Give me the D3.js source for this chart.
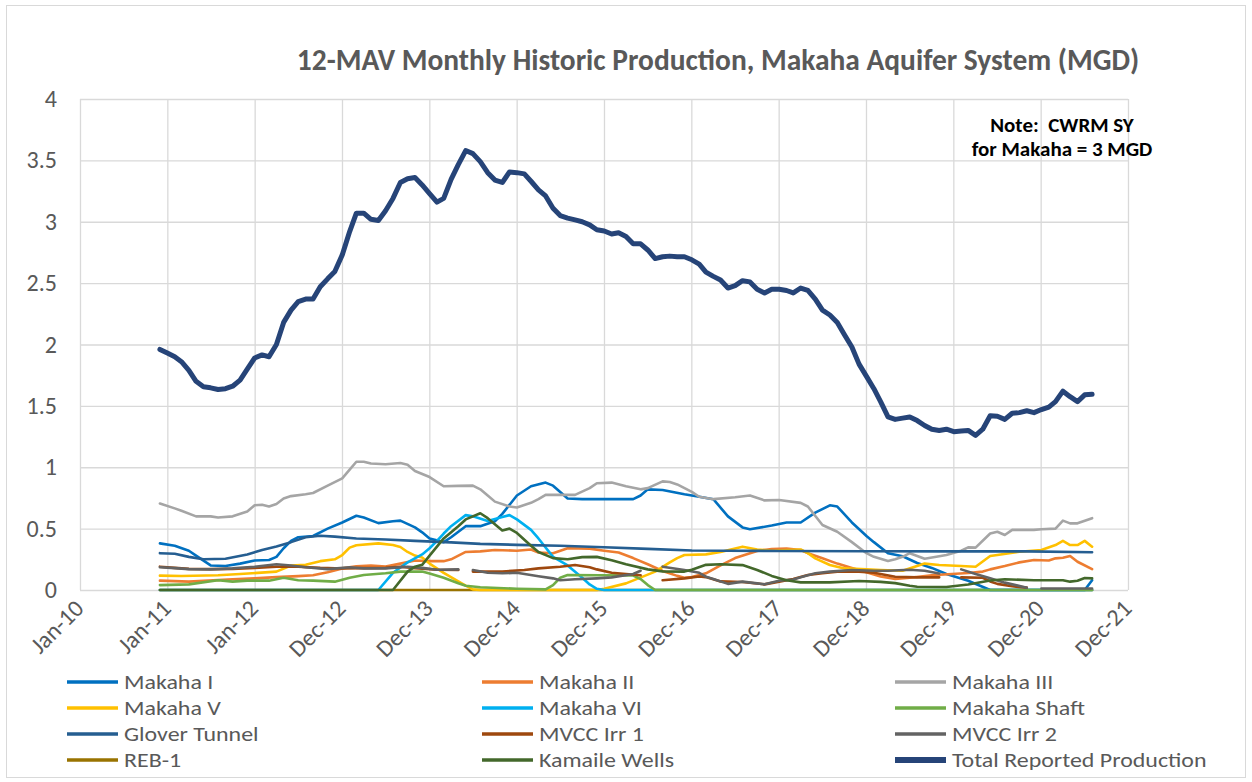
<!DOCTYPE html>
<html>
<head>
<meta charset="utf-8">
<script src="https://cdn.jsdelivr.net/npm/d3@7/dist/d3.min.js"></script>
<style>
  body { margin: 0; background: #fff; }
  svg { display: block; font-family: Calibri, Carlito, "Liberation Sans", Arial, sans-serif; }
</style>
</head>
<body>
<div id="chart"></div>
<script>
// month index m = months since Jan 2010 (11 = Dec-10)
const xTickLabels = ["Jan-10", "Jan-11", "Jan-12", "Dec-12", "Dec-13", "Dec-14", "Dec-15",
  "Dec-16", "Dec-17", "Dec-18", "Dec-19", "Dec-20", "Dec-21"];
const yTicks = [0, 0.5, 1, 1.5, 2, 2.5, 3, 3.5, 4];

const seriesNames = ["Makaha I", "Makaha II", "Makaha III", "Makaha V", "Makaha VI", "Makaha Shaft",
  "Glover Tunnel", "MVCC Irr 1", "MVCC Irr 2", "REB-1", "Kamaile Wells", "Total Reported Production"];
const seriesColors = ["#0070C0", "#ED7D31", "#A5A5A5", "#FFC000", "#00B0F0", "#70AD47",
  "#255E91", "#9E480E", "#636363", "#997300", "#43682B", "#264478"];

const makahaI = [[11,0.38],[13,0.36],[15,0.32],[16,0.28],[18,0.2],[20,0.195],[22,0.215],[24,0.24],[26,0.245],
  [27,0.27],[28,0.34],[29,0.4],[30,0.43],[32,0.44],[34,0.5],[36,0.55],[38,0.605],[39,0.59],[41,0.545],[43,0.56],
  [44,0.565],[46,0.51],[47,0.47],[48,0.42],[50,0.39],[51,0.43],[53,0.52],[55,0.52],[57,0.56],[58,0.62],[60,0.77],
  [62,0.845],[64,0.875],[65,0.85],[67,0.745],[69,0.74],[76,0.74],[77,0.77],[78,0.82],[80,0.815],[83,0.78],[85,0.76],
  [87,0.74],[89,0.6],[91,0.51],[92,0.495],[95,0.525],[97,0.55],[99,0.55],[101,0.63],[103,0.69],[104,0.68],[106,0.55],
  [108,0.44],[109,0.39],[111,0.3],[113,0.275],[115,0.22],[117,0.18],[119,0.13],[122,0.075],[125,0],[138,0],[139,0.08]];

const makahaII = [[11,0.076],[15,0.068],[21,0.087],[24,0.095],[27,0.105],[30,0.113],[32,0.12],[34,0.145],[36,0.176],
  [38,0.193],[40,0.2],[42,0.192],[44,0.215],[46,0.24],[48,0.235],[50,0.235],[51,0.25],[53,0.31],[55,0.315],[57,0.326],
  [60,0.32],[62,0.33],[63,0.305],[65,0.3],[67,0.34],[70,0.337],[72,0.32],[74,0.305],[76,0.26],[78,0.21],[80,0.155],
  [82,0.115],[83,0.1],[84,0.105],[86,0.136],[88,0.2],[90,0.26],[93,0.318],[95,0.334],[97,0.337],[99,0.326],[100,0.3],
  [102,0.258],[104,0.215],[106,0.18],[108,0.145],[110,0.11],[112,0.09],[114,0.1],[117,0.12],[122,0.138],[124,0.15],
  [125,0.168],[127,0.195],[129,0.225],[131,0.244],[133,0.24],[134,0.258],[135,0.263],[136,0.277],[137,0.23],[139,0.17]];

const makahaIII = [[11,0.705],[13,0.665],[14,0.645],[16,0.6],[18,0.6],[19,0.59],[21,0.6],[23,0.64],[24,0.69],
  [25,0.695],[26,0.68],[27,0.7],[28,0.745],[29,0.765],[31,0.78],[32,0.79],[34,0.85],[36,0.91],[37,0.98],[38,1.045],
  [39,1.045],[40,1.03],[42,1.025],[44,1.035],[45,1.02],[46,0.97],[48,0.92],[50,0.845],[52,0.848],[54,0.85],[55,0.82],
  [56,0.77],[57,0.72],[59,0.68],[60,0.672],[62,0.71],[63,0.74],[64,0.775],[68,0.775],[70,0.83],[71,0.87],[73,0.875],
  [75,0.845],[77,0.82],[78,0.83],[80,0.885],[81,0.88],[82,0.86],[84,0.8],[85,0.76],[87,0.74],[90,0.755],[92,0.77],
  [94,0.73],[96,0.733],[99,0.71],[100,0.68],[102,0.53],[104,0.475],[106,0.39],[108,0.3],[109,0.27],[111,0.236],
  [112,0.25],[113,0.27],[114,0.3],[116,0.255],[118,0.275],[119,0.285],[121,0.32],[122,0.347],[123,0.345],[125,0.46],
  [126,0.475],[127,0.448],[128,0.49],[131,0.49],[132,0.495],[134,0.5],[135,0.565],[136,0.543],[137,0.543],[139,0.585]];

const makahaV = [[11,0.117],[14,0.114],[19,0.12],[22,0.13],[27,0.15],[29,0.2],[31,0.205],[33,0.235],[35,0.25],
  [36,0.285],[37,0.345],[38,0.365],[41,0.38],[43,0.366],[44,0.35],[45,0.31],[46,0.28],[47,0.265],[48,0.215],[50,0.14],
  [52,0.07],[53,0.035],[54,0.005],[55,0],[71,0],[72,0.01],[75,0.054],[79,0.15],[81,0.225],[82,0.26],[83,0.285],
  [86,0.29],[88,0.31],[91,0.353],[93,0.33],[95,0.32],[99,0.33],[100,0.3],[101,0.258],[103,0.204],[105,0.176],
  [108,0.168],[110,0.163],[113,0.157],[116,0.215],[118,0.204],[121,0.195],[123,0.19],[125,0.277],[126,0.285],
  [129,0.312],[132,0.326],[134,0.366],[135,0.4],[136,0.366],[137,0.366],[138,0.4],[139,0.353]];

const makahaVI = [[11,0],[41,0],[43,0.14],[45,0.225],[47,0.29],[48,0.34],[49,0.4],[50,0.46],[51,0.52],[53,0.61],
  [54,0.6],[56,0.563],[58,0.595],[59,0.61],[60,0.575],[62,0.49],[63,0.42],[65,0.27],[67,0.2],[69,0.1],[70,0.045],
  [71,0.01],[72,0],[139,0]];

const makahaShaft = [[11,0.04],[15,0.046],[19,0.08],[21,0.068],[23,0.076],[26,0.076],[28,0.1],[30,0.08],[32,0.076],
  [35,0.068],[37,0.1],[39,0.122],[42,0.136],[44,0.15],[47,0.15],[48,0.135],[50,0.1],[52,0.055],[53,0.035],[55,0.022],
  [60,0.01],[64,0.005],[65,0.04],[66,0.1],[67,0.122],[76,0.118],[77,0.09],[78,0.04],[79,0],[139,0]];

const gloverTunnel = [[11,0.3],[13,0.295],[15,0.27],[17,0.25],[20,0.255],[23,0.29],[25,0.325],[27,0.355],[29,0.39],
  [31,0.43],[33,0.442],[35,0.435],[38,0.42],[42,0.412],[46,0.4],[51,0.388],[55,0.376],[60,0.368],[66,0.36],[72,0.348],
  [78,0.335],[84,0.322],[96,0.318],[108,0.316],[120,0.315],[130,0.315],[139,0.308]];

// null = no data (gap in the line)
const mvccIrr1 = [[11,0.19],[13,0.18],[15,0.172],[18,0.17],[21,0.172],[24,0.18],[27,0.19],[30,0.19],[33,0.18],
  [36,0.175],[39,0.178],[42,0.18],[44,0.19],[46,0.178],[49,0.165],[52,0.163],[53,null],[54,0.15],[58,0.15],[61,0.163],
  [63,0.176],[66,0.19],[68,0.204],[70,0.185],[71,0.168],[73,0.14],[75,0.13],[77,0.12],[78,null],[80,0.08],[83,0.095],
  [85,0.11],[86,0.105],[88,0.07],[91,0.065],[94,0.046],[96,0.068],[98,0.09],[100,0.122],[102,0.136],[104,0.15],
  [107,0.15],[109,0.14],[112,0.108],[115,0.103],[118,0.103],[119,null],[121,0.103],[124,0.1],[125,0.07],[126,0.05],
  [128,0.03],[130,0.019]];

const mvccIrr2 = [[11,0.185],[13,0.178],[15,0.17],[18,0.168],[21,0.176],[24,0.19],[27,0.21],[29,0.2],[31,0.185],
  [34,0.17],[37,0.185],[39,0.176],[42,0.176],[45,0.19],[47,0.18],[49,0.165],[52,0.168],[53,null],[54,0.163],[56,0.14],
  [58,0.136],[60,0.14],[63,0.112],[65,0.095],[66,0.08],[68,0.087],[71,0.095],[73,0.103],[76,0.13],[77,0.157],[78,null],
  [80,0.19],[83,0.163],[85,0.14],[86,0.108],[87,0.09],[89,0.05],[91,0.068],[93,0.054],[94,0.046],[96,0.076],[98,0.085],
  [99,0.103],[101,0.136],[103,0.15],[106,0.163],[109,0.157],[111,0.157],[114,0.165],[116,0.157],[118,0.135],[119,null],
  [121,0.168],[123,0.13],[125,0.095],[127,0.06],[130,0.019],[131,null],[132,0.012],[139,0.012]];

const reb1 = [[11,0],[139,0]];

const kamaileWells = [[11,0],[43,0],[45,0.15],[46,0.19],[47,0.205],[48,0.28],[50,0.42],[52,0.52],[53,0.575],[55,0.625],
  [56,0.585],[58,0.485],[59,0.5],[60,0.465],[62,0.36],[63,0.31],[65,0.26],[67,0.25],[69,0.268],[71,0.27],[73,0.243],
  [75,0.21],[78,0.168],[80,0.152],[83,0.15],[84,0.165],[86,0.205],[88,0.21],[91,0.203],[93,0.163],[95,0.115],[97,0.08],
  [99,0.062],[103,0.062],[107,0.073],[110,0.066],[112,0.056],[114,0.035],[115,0.027],[119,0.025],[122,0.045],
  [125,0.078],[127,0.087],[131,0.08],[135,0.08],[136,0.068],[137,0.076],[138,0.098],[139,0.095]];

// total reported production, monthly from Dec-10 (m = 11)
const totalStart = 11;
const totalValues = [
  1.96, 1.93, 1.90, 1.86, 1.79, 1.70, 1.655, 1.647, 1.633, 1.64, 1.66, 1.71,
  1.80, 1.89, 1.915, 1.90, 2.00, 2.18, 2.28, 2.35, 2.37, 2.37, 2.47, 2.535,
  2.595, 2.73, 2.92, 3.07, 3.07, 3.02, 3.01, 3.09, 3.19, 3.32, 3.35, 3.36,
  3.30, 3.23, 3.16, 3.19, 3.345, 3.465, 3.58, 3.555, 3.49, 3.40, 3.34, 3.32,
  3.405, 3.40, 3.39, 3.33, 3.26, 3.21, 3.11, 3.05, 3.03, 3.015, 3.00, 2.975,
  2.935, 2.925, 2.90, 2.91, 2.88, 2.82, 2.82, 2.77, 2.70, 2.715, 2.72, 2.715,
  2.715, 2.69, 2.655, 2.59, 2.555, 2.525, 2.46, 2.48, 2.52, 2.51, 2.45, 2.42,
  2.45, 2.45, 2.44, 2.42, 2.46, 2.44, 2.37, 2.28, 2.24, 2.18, 2.08, 1.98,
  1.84, 1.74, 1.64, 1.535, 1.41, 1.39, 1.40, 1.41, 1.38, 1.34, 1.31, 1.30,
  1.31, 1.29, 1.295, 1.30, 1.26, 1.31, 1.42, 1.415, 1.39, 1.44, 1.445, 1.46,
  1.445, 1.47, 1.49, 1.535, 1.62, 1.575, 1.535, 1.59, 1.595];

const noteLines = ["Note:\u00A0 CWRM SY", "for Makaha = 3 MGD"];
const titleText = "12-MAV Monthly Historic Production, Makaha Aquifer System (MGD)";

// ---------------------------------------------------------------
const width = 1252, height = 782;
const plot = { left: 80, right: 1128, top: 99, bottom: 590 };
const textColor = "#595959";
const gridColor = "#D9D9D9";
const labelSize = 24;

const monthDate = m => new Date(2010, m, 1);
const axisStart = new Date(2010, 0, 1);
const dayMs = 24 * 3600 * 1000;
// Excel date axis: major unit of 365 days
const tickDates = xTickLabels.map((d, i) => new Date(axisStart.getTime() + i * 365 * dayMs));

const x = d3.scaleTime()
  .domain([tickDates[0], tickDates[tickDates.length - 1]])
  .range([plot.left, plot.right]);
const y = d3.scaleLinear().domain([0, 4]).range([plot.bottom, plot.top]);

const totalSeries = totalValues.map((v, i) => [totalStart + i, v]);
const allSeries = [makahaI, makahaII, makahaIII, makahaV, makahaVI, makahaShaft,
  gloverTunnel, mvccIrr1, mvccIrr2, reb1, kamaileWells, totalSeries];

const series = seriesNames.map((name, i) => ({
  name,
  color: seriesColors[i],
  total: i === seriesNames.length - 1,
  values: allSeries[i]
}));

// REB-1 sits at zero underneath the other lines
const drawOrder = [series[9]].concat(series.filter((d, i) => i !== 9));

const svg = d3.select("#chart").append("svg")
  .attr("width", width)
  .attr("height", height);

svg.append("rect")
  .attr("x", 6.5).attr("y", 5.5)
  .attr("width", 1239).attr("height", 772)
  .attr("fill", "#fff")
  .attr("stroke", gridColor);

// gridlines
svg.append("g")
  .attr("transform", `translate(0,${plot.bottom})`)
  .call(d3.axisBottom(x).tickValues(tickDates).tickSize(-(plot.bottom - plot.top)).tickFormat(""))
  .call(g => g.select(".domain").remove())
  .call(g => g.selectAll("line").attr("stroke", gridColor).attr("stroke-width", 1.3));

svg.append("g")
  .attr("transform", `translate(${plot.left},0)`)
  .call(d3.axisLeft(y).tickValues(yTicks).tickSize(-(plot.right - plot.left)).tickFormat(""))
  .call(g => g.select(".domain").remove())
  .call(g => g.selectAll("line").attr("stroke", gridColor).attr("stroke-width", 1.3));

// y tick labels
svg.append("g")
  .selectAll("text")
  .data(yTicks)
  .join("text")
  .attr("x", 57)
  .attr("y", d => y(d) + 8)
  .attr("text-anchor", "end")
  .attr("font-size", labelSize)
  .attr("fill", textColor)
  .text(d => d3.format("~g")(d));

// x tick labels, rotated
svg.append("g")
  .selectAll("text")
  .data(tickDates)
  .join("text")
  .attr("text-anchor", "end")
  .attr("font-size", labelSize)
  .attr("fill", textColor)
  .attr("transform", d => `translate(${x(d) + 5},${610}) rotate(-45)`)
  .text((d, i) => xTickLabels[i]);

// lines
const line = d3.line()
  .defined(d => d[1] != null)
  .x(d => x(monthDate(d[0])))
  .y(d => y(d[1]));

svg.append("g")
  .selectAll("path")
  .data(drawOrder)
  .join("path")
  .attr("fill", "none")
  .attr("stroke", d => d.color)
  .attr("stroke-width", d => d.total ? 5 : 2.6)
  .attr("stroke-linejoin", "round")
  .attr("stroke-linecap", "round")
  .attr("d", d => line(d.values));

// title, fitted to its width in the reference
const title = svg.append("text")
  .attr("x", 718)
  .attr("y", 70)
  .attr("text-anchor", "middle")
  .attr("font-size", 24)
  .attr("font-weight", "bold")
  .attr("fill", textColor)
  .text(titleText);
const tw = title.node().getComputedTextLength();
title.attr("font-size", 24 * 843 / tw);

// note
svg.append("g")
  .selectAll("text")
  .data(noteLines)
  .join("text")
  .attr("x", 1062)
  .attr("y", (d, i) => 132 + i * 24)
  .attr("text-anchor", "middle")
  .attr("font-size", 21)
  .attr("font-weight", "bold")
  .attr("fill", "#000")
  .text(d => d);

// legend: 3 columns x 4 rows
const legendCols = [67, 482, 895];
const legendRows = [682, 708, 734, 760];
const legendFont = 21;
const legend = svg.append("g")
  .selectAll("g")
  .data(series)
  .join("g")
  .attr("transform", (d, i) => `translate(${legendCols[i % 3]},${legendRows[Math.floor(i / 3)]})`);

legend.append("line")
  .attr("x1", 0).attr("x2", 51)
  .attr("stroke", d => d.color)
  .attr("stroke-width", d => d.total ? 6 : 3.5);

// slightly widened glyphs, as in the reference
legend.append("text")
  .attr("transform", "translate(57,7) scale(1.14,1)")
  .attr("font-size", legendFont)
  .attr("fill", textColor)
  .text(d => d.name);
</script>
</body>
</html>
